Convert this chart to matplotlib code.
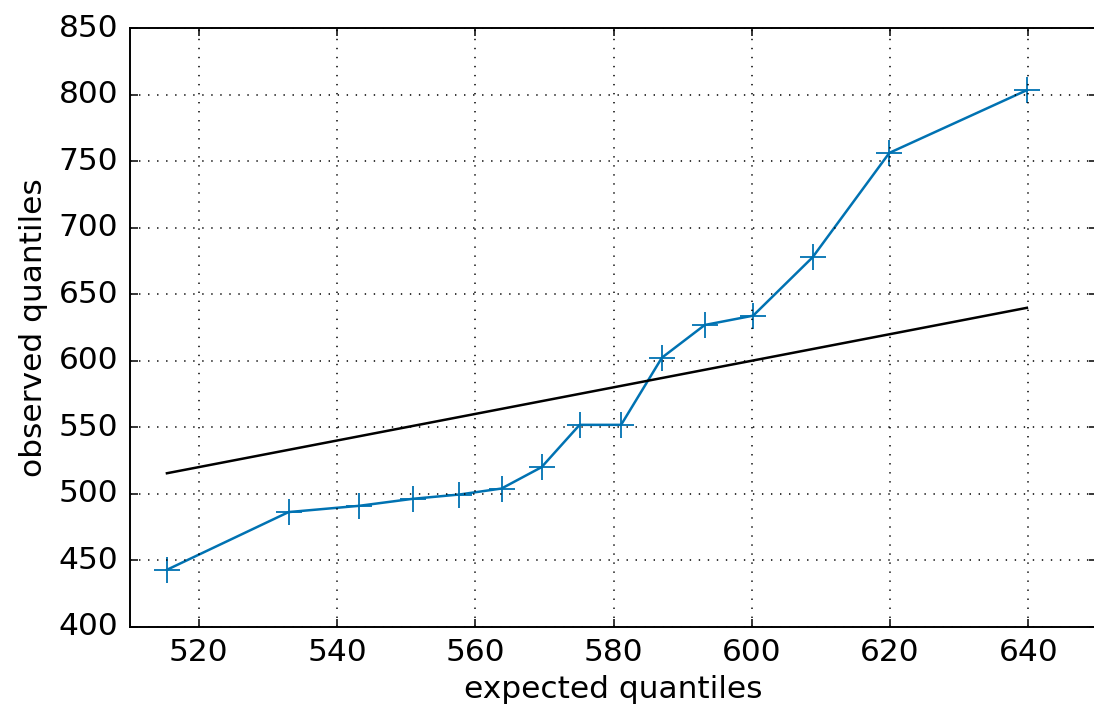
import matplotlib
matplotlib.use("Agg")
import matplotlib.pyplot as plt

expected = [515.4, 533.0, 543.2, 551.0, 557.7, 563.8, 569.6, 575.1, 581.1, 587.0, 593.2, 600.2, 608.8, 619.9, 639.8]
observed = [442.8, 486.2, 490.9, 496.2, 499.4, 503.9, 520.0, 551.8, 551.8, 602.3, 626.9, 633.9, 677.8, 756.3, 803.5]
ref_line = [515.4, 639.8]
xticks = [520, 540, 560, 580, 600, 620, 640]
yticks = [400, 450, 500, 550, 600, 650, 700, 750, 800, 850]

plt.style.use('classic')
plt.rcParams['font.family'] = 'DejaVu Sans'
fig = plt.figure(figsize=(10.94, 7.15), dpi=100, facecolor='white')
ax = fig.add_axes([129.6/1094, 1-626.7/715, (1097.4-129.6)/1094, (626.7-28.3)/715])
ax.plot(expected, observed, color='#0072B2', marker='+', markersize=19, markeredgewidth=1.3, linewidth=1.8)
ax.plot(ref_line, ref_line, color='black', linewidth=1.8)
ax.set_xlim(510, 650)
ax.set_ylim(400, 850)
ax.set_xticks(xticks)
ax.set_yticks(yticks)
ax.grid(True, color='black', linestyle=(0, (1, 5.5)), linewidth=1.1)
for s in ax.spines.values():
    s.set_linewidth(1.4)
ax.tick_params(labelsize=22.5, length=6, width=1.1, pad=8)
ax.set_xlabel('expected quantiles', fontsize=22.5, labelpad=6)
ax.set_ylabel('observed quantiles', fontsize=22.5, labelpad=8)
fig.savefig('out.png', dpi=100, facecolor='white')
